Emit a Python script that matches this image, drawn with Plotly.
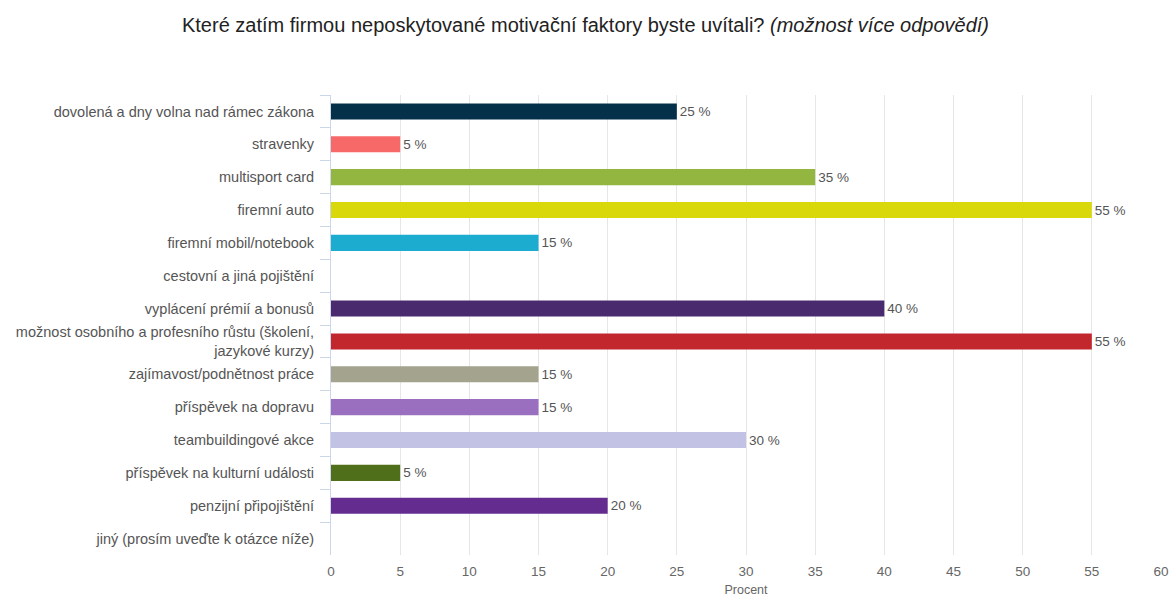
import plotly.graph_objects as go

categories = [
    "dovolená a dny volna nad rámec zákona",
    "stravenky",
    "multisport card",
    "firemní auto",
    "firemní mobil/notebook",
    "cestovní a jiná pojištění",
    "vyplácení prémií a bonusů",
    "možnost osobního a profesního růstu (školení,<br>jazykové kurzy)",
    "zajímavost/podnětnost práce",
    "příspěvek na dopravu",
    "teambuildingové akce",
    "příspěvek na kulturní události",
    "penzijní připojištění",
    "jiný (prosím uveďte k otázce níže)",
]
values = [25, 5, 35, 55, 15, 0, 40, 55, 15, 15, 30, 5, 20, 0]
colors = [
    "#05304a", "#f76868", "#93b640", "#d8d80a", "#1bacd0", "#888888",
    "#4a2a6e", "#c3272e", "#a4a38d", "#9b6fc0", "#c2c2e4", "#506f1a",
    "#652c90", "#888888",
]
labels = [f"{v} %" if v > 0 else "" for v in values]

FONT = "Liberation Sans, Arial, sans-serif"

fig = go.Figure(
    go.Bar(
        x=values,
        y=categories,
        orientation="h",
        marker=dict(color=colors, line=dict(width=0)),
        text=labels,
        textposition="outside",
        textfont=dict(size=13.5, color="#555555", family=FONT),
        cliponaxis=False,
        hoverinfo="x+y",
    )
)

fig.update_layout(
    width=1171,
    height=597,
    paper_bgcolor="white",
    plot_bgcolor="white",
    margin=dict(l=331, r=10, t=95, b=42),
    bargap=0.51,
    showlegend=False,
    font=dict(family=FONT, color="#666666"),
    title=dict(
        text="Které zatím firmou neposkytované motivační faktory byste uvítali? <i>(možnost více odpovědí)</i>",
        x=0.5,
        xanchor="center",
        y=0.958,
        yanchor="middle",
        font=dict(size=20, color="#222222", family=FONT),
    ),
    xaxis=dict(
        range=[0, 60],
        tick0=0,
        dtick=5,
        automargin=False,
        showgrid=True,
        gridcolor="#e6e6e6",
        gridwidth=1,
        zeroline=False,
        showline=False,
        ticks="",
        tickfont=dict(size=13.5, color="#666666"),
        ticklabelstandoff=6,
        title=dict(text="Procent", font=dict(size=12.5, color="#666666"), standoff=8),
        fixedrange=True,
    ),
    yaxis=dict(
        autorange="reversed",
        automargin=False,
        showgrid=False,
        showline=True,
        linecolor="#ccd6eb",
        linewidth=1,
        ticks="outside",
        tickson="boundaries",
        ticklen=10,
        tickcolor="#ccd6eb",
        tickwidth=1,
        tickfont=dict(size=14.5, color="#555555"),
        ticklabelstandoff=13,
        fixedrange=True,
    ),
)

fig.write_html("out.html")
